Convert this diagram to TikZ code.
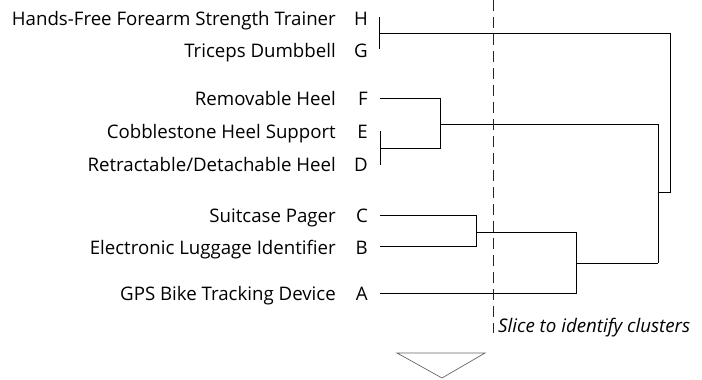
\documentclass[tikz,border=0pt]{standalone}
\usepackage{fontspec}
\setmainfont{Open Sans}
\newlength\reflen
\begin{document}
\settowidth\reflen{\fontsize{10}{12}\selectfont Hands-Free Forearm Strength Trainer}%
\pgfmathsetmacro\fs{10*325.08/\reflen}%
\settowidth\reflen{\fontsize{10}{12}\selectfont\itshape Slice to identify clusters}%
\pgfmathsetmacro\fsi{10*192.7/\reflen}%
\begin{tikzpicture}[x=1bp,y=-1bp,
  lbl/.style={anchor=base east,inner sep=0pt,font=\fontsize{\fs}{\fs}\selectfont},
  ltr/.style={anchor=base east,inner sep=0pt,font=\fontsize{\fs}{\fs}\selectfont},
  link/.style={draw=black,line width=0.9bp},
  slice/.style={draw=black!85,line width=0.9bp,dash pattern=on 11bp off 6bp},
  slicelbl/.style={anchor=base west,inner sep=0pt,font=\fontsize{\fsi}{\fsi}\selectfont\itshape},
  arrowtri/.style={draw=black!60,line width=0.7bp}]
\useasboundingbox (0,0) rectangle (702,379);
% labels (positions are baselines)
\foreach \n/\t/\y in {H/{Hands-Free Forearm Strength Trainer}/25, G/{Triceps Dumbbell}/57,
  F/{Removable Heel}/105, E/{Cobblestone Heel Support}/138, D/{Retractable{/}Detachable Heel}/171,
  C/{Suitcase Pager}/222, B/{Electronic Luggage Identifier}/254, A/{GPS Bike Tracking Device}/300}{
  \node[lbl] (t\n) at (336,\y) {\t};
  \node[ltr] (l\n) at (368,\y) {\n};
}
% leaf coordinates
\coordinate (pH) at (379,17);
\coordinate (pG) at (379,49);
\coordinate (pF) at (380,98);
\coordinate (pE) at (380,131);
\coordinate (pD) at (380,165);
\coordinate (pC) at (380,215);
\coordinate (pB) at (380,246);
\coordinate (pA) at (380,293);
% junctions
\coordinate (jHG) at (379,33);
\coordinate (jED) at (380,148);
\coordinate (jFED) at (440,124);
\coordinate (jCB) at (476,232);
\coordinate (jCBA) at (576,263);
\coordinate (jDA) at (658,192);
\coordinate (jroot) at (670,33);
% H/G
\draw[link] (pH) -- (pG);
\draw[link] (jHG) -- (jroot) |- (jDA);
% F, E/D
\draw[link] (pE) -- (pD);
\draw[link] (pF) -| (jFED |- jED) -- (jED);
\draw[link] (jFED) -| (jCBA -| jDA);
% C, B, A
\draw[link] (pC) -| (jCB |- pB) -- (pB);
\draw[link] (jCB) -| (jCBA |- pA) -- (pA);
\draw[link] (jCBA) -- (jCBA -| jDA);
% slice
\coordinate (s0) at (493,0);
\coordinate (s1) at (493,333);
\draw[slice] (s0) -- (s1);
\node[slicelbl] (slicetxt) at (498,332) {Slice to identify clusters};
% triangle
\coordinate (ta) at (397,353);
\coordinate (tb) at (485,353);
\coordinate (tc) at (442,378);
\draw[arrowtri] (ta) -- (tb) -- (tc) -- cycle;
\end{tikzpicture}
\end{document}
